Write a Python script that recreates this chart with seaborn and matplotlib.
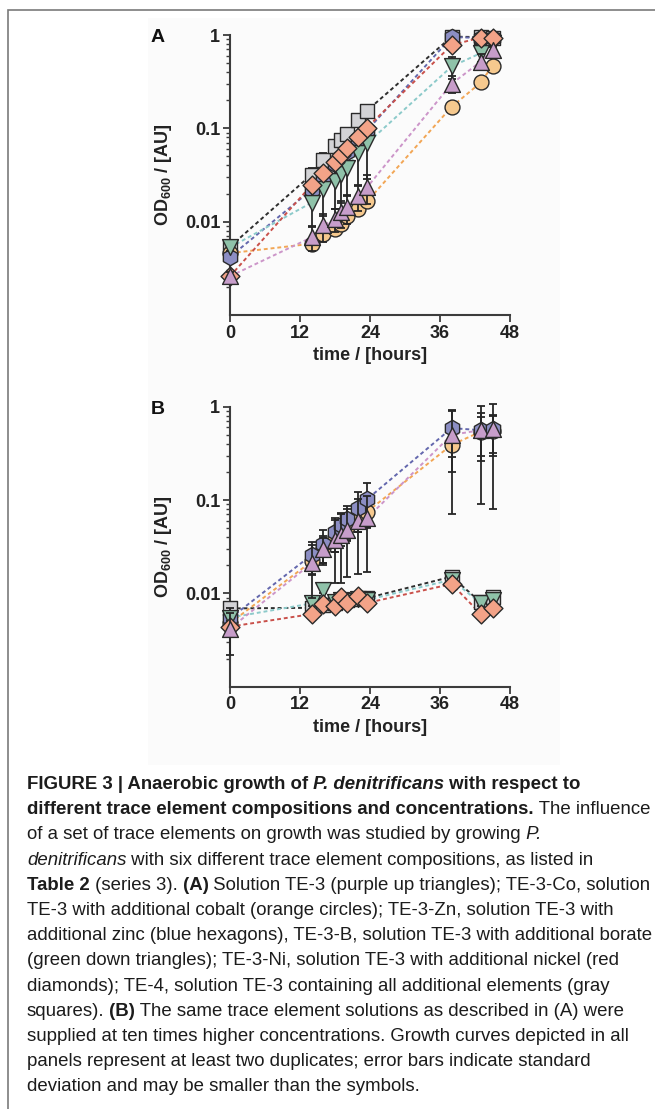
import numpy as np
import pandas as pd
import matplotlib
matplotlib.use("Agg")
import matplotlib.pyplot as plt
import seaborn as sns
from matplotlib import font_manager
from matplotlib.ticker import LogLocator, NullFormatter, FixedLocator, FixedFormatter
from matplotlib.patches import Rectangle

# ---------------- data ----------------
times = [0, 14, 16, 18, 19, 20, 22, 23.5, 38, 43, 45]
x_ticks = [0, 12, 24, 36, 48]
y_ticks = [0.01, 0.1, 1]
y_tick_labels = ["0.01", "0.1", "1"]

series = ["TE-4", "TE-3-Co", "TE-3-Zn", "TE-3-B", "TE-3-Ni", "TE-3"]

# Panel A
a_te4 = [0.0054, 0.032, 0.046, 0.065, 0.075, 0.088, 0.123, 0.155, 0.96, 0.95, 0.93]
a_zn  = [0.0042, 0.022, 0.030, 0.041, 0.049, 0.056, 0.077, 0.095, 0.95, 0.93, 0.93]
a_b   = [0.0053, 0.016, 0.0226, 0.0276, 0.0328, 0.038, 0.054, 0.069, 0.46, 0.64, 0.82]
a_co  = [0.0046, 0.0058, 0.0074, 0.0083, 0.0094, 0.0116, 0.0137, 0.0165, 0.17, 0.31, 0.47]
a_te3 = [0.0026, 0.0068, 0.0091, 0.0107, 0.0126, 0.0145, 0.019, 0.0234, 0.30, 0.52, 0.69]
a_ni  = [0.0026, 0.0247, 0.0335, 0.044, 0.052, 0.061, 0.081, 0.102, 0.78, 0.94, 0.92]

a_te4_err = [0.0003, 0.006, 0.008, 0.010, 0.012, 0.014, 0.020, 0.025, 0.05, 0.05, 0.05]
a_zn_err  = [0.0003, 0.002, 0.003, 0.003, 0.004, 0.004, 0.006, 0.008, 0.05, 0.05, 0.05]
a_b_err   = [0.0004, 0.007, 0.011, 0.014, 0.017, 0.019, 0.030, 0.040, 0.12, 0.12, 0.08]
a_co_err  = [0.0003, 0.0004, 0.0005, 0.0005, 0.0006, 0.0008, 0.001, 0.001, 0.02, 0.03, 0.04]
a_te3_err = [0.0003, 0.002, 0.003, 0.003, 0.004, 0.005, 0.006, 0.008, 0.06, 0.10, 0.08]
a_ni_err  = [0.0003, 0.002, 0.003, 0.003, 0.004, 0.004, 0.006, 0.008, 0.05, 0.04, 0.04]

# Panel B
b_te4 = [0.0069, 0.0070, 0.0075, 0.0078, 0.0082, 0.0085, 0.0088, 0.0089, 0.0151, 0.0080, 0.0092]
b_zn  = [0.0054, 0.0258, 0.034, 0.046, 0.054, 0.062, 0.083, 0.102, 0.59, 0.56, 0.57]
b_b   = [0.0055, 0.0078, 0.0109, 0.0080, 0.0085, 0.0082, 0.0088, 0.0085, 0.0140, 0.0078, 0.0085]
b_co  = [0.0048, 0.022, 0.031, 0.040, 0.046, 0.052, 0.066, 0.075, 0.39, 0.54, 0.55]
b_te3 = [0.0042, 0.021, 0.030, 0.037, 0.042, 0.048, 0.059, 0.064, 0.50, 0.56, 0.58]
b_ni  = [0.0044, 0.0060, 0.0077, 0.0074, 0.0092, 0.0079, 0.0094, 0.0079, 0.0126, 0.0060, 0.0069]

b_te4_err = [0.0004, 0.0003, 0.0004, 0.0004, 0.0004, 0.0004, 0.0005, 0.0005, 0.0008, 0.0005, 0.0005]
b_zn_err  = [0.0015, 0.010, 0.014, 0.018, 0.019, 0.025, 0.038, 0.050, 0.30, 0.30, 0.25]
b_b_err   = [0.0004, 0.0005, 0.0008, 0.0005, 0.0005, 0.0005, 0.0005, 0.0005, 0.0008, 0.0005, 0.0005]
b_co_err  = [0.001, 0.006, 0.010, 0.012, 0.014, 0.016, 0.020, 0.025, 0.19, 0.24, 0.25]
b_te3_err = [0.002, 0.012, 0.009, 0.024, 0.029, 0.033, 0.043, 0.047, 0.43, 0.47, 0.50]
b_ni_err  = [0.0003, 0.0003, 0.0004, 0.0004, 0.0005, 0.0004, 0.0005, 0.0004, 0.0007, 0.0004, 0.0004]

caption_lines = [
    [("FIGURE 3 | Anaerobic growth of", "b"), (" P. denitrificans", "bi"), (" with respect to", "b")],
    [("different trace element compositions and concentrations.", "b"), (" The influence", "r")],
    [("of a set of trace elements on growth was studied by growing", "r"), (" P.", "i")],
    [("denitrificans", "i"), (" with six different trace element compositions, as listed in", "r")],
    [("Table 2", "b"), (" (series 3).", "r"), (" (A)", "b"), (" Solution TE-3 (purple up triangles); TE-3-Co, solution", "r")],
    [("TE-3 with additional cobalt (orange circles); TE-3-Zn, solution TE-3 with", "r")],
    [("additional zinc (blue hexagons), TE-3-B, solution TE-3 with additional borate", "r")],
    [("(green down triangles); TE-3-Ni, solution TE-3 with additional nickel (red", "r")],
    [("diamonds); TE-4, solution TE-3 containing all additional elements (gray", "r")],
    [("squares).", "r"), (" (B)", "b"), (" The same trace element solutions as described in (A) were", "r")],
    [("supplied at ten times higher concentrations. Growth curves depicted in all", "r")],
    [("panels represent at least two duplicates; error bars indicate standard", "r")],
    [("deviation and may be smaller than the symbols.", "r")],
]

# ---------------- style ----------------
markers = {"TE-4": "s", "TE-3-Zn": "h", "TE-3-B": "v", "TE-3-Co": "o", "TE-3": "^", "TE-3-Ni": "D"}
sizes = {"TE-4": 110, "TE-3-Zn": 140, "TE-3-B": 130, "TE-3-Co": 115, "TE-3": 130, "TE-3-Ni": 92}
fills = {"TE-4": "#d3d3d6", "TE-3-Zn": "#8c8ec4", "TE-3-B": "#8fc2a9",
         "TE-3-Co": "#f6c98e", "TE-3": "#c79dca", "TE-3-Ni": "#f3a388"}
line_cols = {"TE-4": "#2e2e2e", "TE-3-Zn": "#6367ad", "TE-3-B": "#8ccaca",
             "TE-3-Co": "#f2a655", "TE-3": "#cc95c9", "TE-3-Ni": "#c9504a"}
edge = "#2a2a2a"

sns.set_theme(style="ticks")
plt.rcParams["font.family"] = ["Liberation Sans", "DejaVu Sans"]
plt.rcParams["mathtext.fontset"] = "custom"
plt.rcParams["mathtext.rm"] = "Liberation Sans:bold"
plt.rcParams["mathtext.bf"] = "Liberation Sans:bold"
plt.rcParams["mathtext.default"] = "rm"

W, H = 655, 1109
fig = plt.figure(figsize=(W / 100, H / 100), dpi=100)
fig.patch.set_facecolor("white")

# outer frame and faint image background
fig.add_artist(Rectangle((8 / W, -0.05), 2, 1.05 - 10 / H, transform=fig.transFigure,
                         fill=False, ec="#7a7a7a", lw=1.2, zorder=0))
fig.add_artist(Rectangle((148 / W, 1 - 765 / H), (560 - 148) / W, (765 - 18) / H,
                         transform=fig.transFigure, fc="#fbfbfb", ec="none", zorder=0))


def px_axes(left, top, right, bottom):
    return fig.add_axes([left / W, 1 - bottom / H, (right - left) / W, (bottom - top) / H])


def draw_panel(ax, data, errs, letter, top_px):
    ax.set_facecolor("none")
    ax.set_yscale("log")
    for name in series:
        df = pd.DataFrame({"time": times, "od": data[name]})
        sns.lineplot(data=df, x="time", y="od", ax=ax, color=line_cols[name], lw=1.4,
                     linestyle=(0, (2.0, 1.5)), zorder=1, clip_on=False, legend=False,
                     errorbar=None)
    for i, name in enumerate(series):
        ax.errorbar(times, data[name], yerr=errs[name], fmt="none", ecolor="#262626",
                    elinewidth=1.3, capsize=3, capthick=1.3, zorder=2 + i * 2, clip_on=False)
        df = pd.DataFrame({"time": times, "od": data[name]})
        sns.scatterplot(data=df, x="time", y="od", ax=ax, marker=markers[name], s=sizes[name],
                        color=fills[name], edgecolor=edge, linewidth=1.0, zorder=3 + i * 2,
                        clip_on=False, legend=False)
    ax.set_xlim(0, 48)
    ax.set_ylim(0.001, 1)
    ax.xaxis.set_major_locator(FixedLocator(x_ticks))
    ax.set_xticklabels([str(t) for t in x_ticks])
    ax.yaxis.set_major_locator(FixedLocator(y_ticks))
    ax.yaxis.set_major_formatter(FixedFormatter(y_tick_labels))
    ax.yaxis.set_minor_locator(LogLocator(base=10, subs=np.arange(2, 10)))
    ax.yaxis.set_minor_formatter(NullFormatter())
    for s in ["top", "right"]:
        ax.spines[s].set_visible(False)
    for s in ["left", "bottom"]:
        ax.spines[s].set_color("#3c3c3c")
        ax.spines[s].set_linewidth(1.5)
    ax.tick_params(axis="both", which="major", direction="out", length=5, width=1.3,
                   color="#3c3c3c", labelsize=13, pad=2, labelcolor="#222222")
    ax.tick_params(axis="y", which="minor", direction="out", length=3, width=1.0, color="#3c3c3c")
    for lab in ax.get_xticklabels() + ax.get_yticklabels():
        lab.set_fontweight("bold")
    ax.set_xlabel("time / [hours]", fontsize=13, fontweight="bold", color="#222222")
    ax.set_ylabel("OD$_{600}$ / [AU]", fontsize=13, fontweight="bold", color="#222222")
    ax.xaxis.set_label_coords(0.5, -0.115)
    ax.yaxis.set_label_coords(-0.2, 0.5)
    fig.text(158 / W, 1 - top_px / H, letter, fontsize=14, fontweight="bold",
             ha="center", va="center", color="#111111")


axA = px_axes(230, 35, 510, 315)
axB = px_axes(230, 406.7, 510, 686.7)

dataA = {"TE-4": a_te4, "TE-3-Zn": a_zn, "TE-3-B": a_b, "TE-3-Co": a_co, "TE-3": a_te3, "TE-3-Ni": a_ni}
errA = {"TE-4": a_te4_err, "TE-3-Zn": a_zn_err, "TE-3-B": a_b_err, "TE-3-Co": a_co_err,
        "TE-3": a_te3_err, "TE-3-Ni": a_ni_err}
dataB = {"TE-4": b_te4, "TE-3-Zn": b_zn, "TE-3-B": b_b, "TE-3-Co": b_co, "TE-3": b_te3, "TE-3-Ni": b_ni}
errB = {"TE-4": b_te4_err, "TE-3-Zn": b_zn_err, "TE-3-B": b_b_err, "TE-3-Co": b_co_err,
        "TE-3": b_te3_err, "TE-3-Ni": b_ni_err}

draw_panel(axA, dataA, errA, "A", 37)
draw_panel(axB, dataB, errB, "B", 409)

# ---------------- caption ----------------
avail = {f.name for f in font_manager.fontManager.ttflist}
cap_family = ["Liberation Sans Narrow"] if "Liberation Sans Narrow" in avail else ["Liberation Sans"]
renderer = fig.canvas.get_renderer()


def seg_props(sty):
    return dict(fontweight="bold" if "b" in sty else "normal",
                fontstyle="italic" if "i" in sty else "normal")


def line_width(segs, size):
    w = 0
    for text, sty in segs:
        t = fig.text(0, 0, text, fontsize=size, family=cap_family, **seg_props(sty))
        w += t.get_window_extent(renderer).width
        t.remove()
    return w


x0, target_w = 27, 624
ref_w = line_width(caption_lines[1], 10)
cap_size = 10 * target_w / ref_w

base0, dy = 789, 25.2
for i, segs in enumerate(caption_lines):
    x = x0
    y = base0 + i * dy
    for text, sty in segs:
        t = fig.text(x / W, 1 - y / H, text, fontsize=cap_size, family=cap_family,
                     ha="left", va="baseline", color="#1c1c1c", **seg_props(sty))
        x += t.get_window_extent(renderer).width

fig.savefig("out.png", dpi=100)
